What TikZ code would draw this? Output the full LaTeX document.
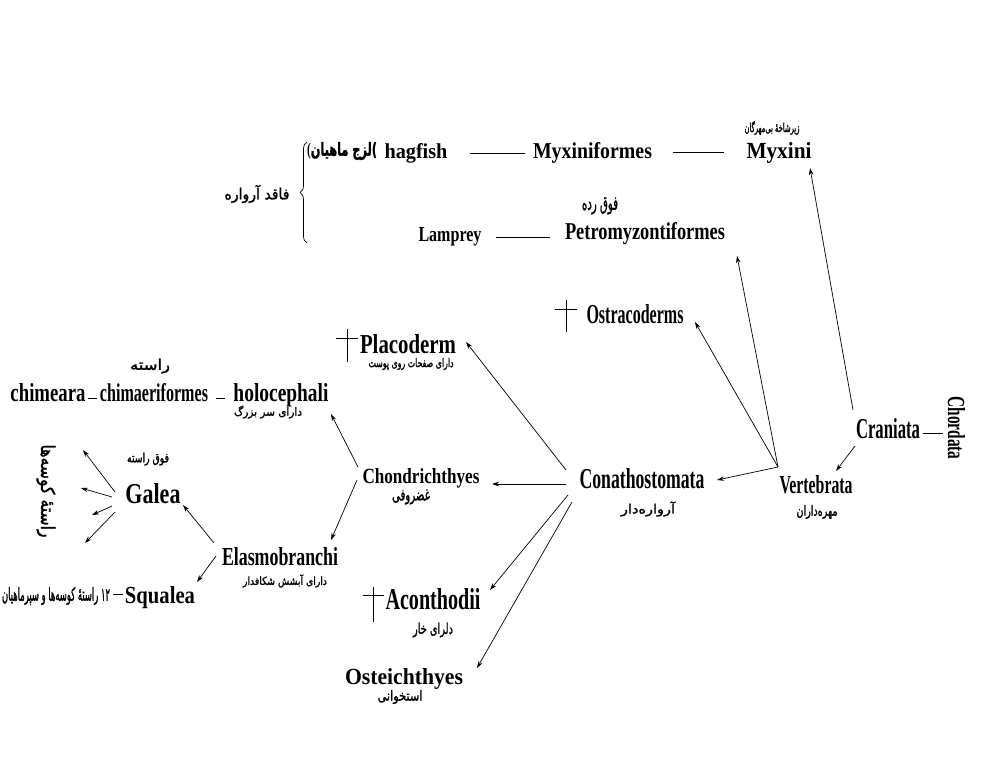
\documentclass[tikz,border=0pt]{standalone}
\usepackage{fontspec}
\usepackage{graphicx}
\setmainfont{Liberation Serif}
\newfontfamily\fa[Script=Arabic,FakeBold=1.6]{DejaVu Sans}
\TeXXeTstate=1
\usetikzlibrary{arrows.meta,decorations.pathreplacing}
\newcommand{\LT}[3]{\resizebox{#1pt}{#2pt}{\bfseries #3}}
\newcommand{\FA}[3]{\resizebox*{#1pt}{#2pt}{\fa #3}}
\tikzset{
  lat/.style={anchor=base, inner sep=0pt},
  per/.style={anchor=center, inner sep=0pt},
  arr/.style={line width=0.7pt, -{Stealth[length=7pt,width=4.5pt]}},
  ln/.style={line width=0.7pt},
  crossln/.style={line width=0.6pt},
}
\begin{document}
\begin{tikzpicture}[x=1pt,y=-1pt]
\fill[white] (0,0) rectangle (1000,773);
\useasboundingbox (0,0) rectangle (1000,773);

% Latin labels
\node[lat] (hag) at (416,158) {\LT{63}{15}{hagfish}};
\node[lat] (myxf) at (592.5,158) {\LT{119}{16}{Myxiniformes}};
\node[lat] (myx) at (779,158) {\LT{65}{16}{Myxini}};
\node[lat] (lam) at (450,241) {\LT{63}{14}{Lamprey}};
\node[lat] (pet) at (645,239) {\LT{160}{17}{Petromyzontiformes}};
\node[lat] (ost) at (635,323) {\LT{97}{19}{Ostracoderms}};
\node[lat] (pla) at (408,353) {\LT{96}{19}{Placoderm}};
\node[lat] (chi) at (48,401) {\LT{75}{18}{chimeara}};
\node[lat] (chf) at (154,401) {\LT{108}{18}{chimaeriformes}};
\node[lat] (hol) at (281,401) {\LT{95}{18}{holocephali}};
\node[lat] (cra) at (888,438) {\LT{64}{20}{Craniata}};
\node[lat, rotate=-90] (cho) at (948,428) {\LT{63}{17}{Chordata}};
\node[lat] (ver) at (816,493) {\LT{73}{18}{Vertebrata}};
\node[lat] (con) at (642,488) {\LT{125}{20}{Conathostomata}};
\node[lat] (chd) at (421,483) {\LT{117}{15}{Chondrichthyes}};
\node[lat] (gal) at (153,503) {\LT{55}{20}{Galea}};
\node[lat] (ela) at (280,565) {\LT{116}{18}{Elasmobranchi}};
\node[lat] (squ) at (160,603) {\LT{70}{17}{Squalea}};
\node[lat] (aco) at (433,609) {\LT{95}{21}{Aconthodii}};
\node[lat] (ostei) at (404,684) {\LT{118}{16}{Osteichthyes}};

% Persian labels
\node[per] (lazej) at (342,151) {\resizebox*{70pt}{18pt}{\bfseries(\fa\beginR لزج ماهیان\endR)}};
\node[per] (zirshakhe) at (772,128) {\FA{55}{14}{\beginR زیرشاخهٔ بی^^^^200cمهرگان\endR}};
\node[per] (faghed) at (257,194) {\FA{65}{18}{\beginR فاقد آرواره\endR}};
\node[per] (foghrade) at (600,206) {\FA{36}{17}{\beginR فوق رده\endR}};
\node[per] (safahat) at (411,364) {\FA{85}{12}{\beginR دارای صفحات روی پوست\endR}};
\node[per] (raste) at (150,366) {\FA{40}{15}{\beginR راسته\endR}};
\node[per] (sarbozorg) at (268,412) {\FA{68}{13}{\beginR دارای سر بزرگ\endR}};
\node[per] (foghraste) at (148,459) {\FA{42}{13}{\beginR فوق راسته\endR}};
\node[per, rotate=-90] (kuseha) at (46,491) {\FA{93}{19}{\beginR راستهٔ کوسه^^^^200cها\endR}};
\node[per] (ghozrufi) at (411,497) {\FA{38}{15}{\beginR غضروفی\endR}};
\node[per] (arvaredar) at (648,509) {\FA{54}{15}{\beginR آرواره^^^^200cدار\endR}};
\node[per] (mohredaran) at (817,512) {\FA{41}{14}{\beginR مهره^^^^200cداران\endR}};
\node[per] (abshesh) at (285,581) {\FA{84}{13}{\beginR دارای آبشش شکافدار\endR}};
\node[per] (davazdah) at (56,596) {\FA{108}{18}{\beginR ۱۲ راستهٔ کوسه^^^^200cها و سپرماهیان\endR}};
\node[per] (khar) at (433,630) {\FA{40}{15}{\beginR دلرای خار\endR}};
\node[per] (ostokhani) at (400,697) {\FA{45}{14}{\beginR استخوانی\endR}};

% plain connectors
\draw[ln] ([shift={(22,-5)}]hag.base east) -- ([shift={(-8,-5)}]myxf.base west);
\draw[ln] ([shift={(21,-6)}]myxf.base east) -- ([shift={(-22,-6)}]myx.base west);
\draw[ln] ([shift={(14,-4)}]lam.base east) -- ([shift={(-15,-2)}]pet.base west);
\draw[ln] ([shift={(2.5,-3)}]chi.base east) -- ([shift={(-3,-3)}]chf.base west);
\draw[ln] ([shift={(8,-3)}]chf.base east) -- ([shift={(-8.5,-3)}]hol.base west);
\draw[ln] ([shift={(3,-5)}]cra.base east) -- ([shift={(-5,5)}]cho.base);
\draw[ln] ([shift={(3,-2)}]davazdah.east) -- ([shift={(-2,-9)}]squ.base west);

% brace
\draw[ln, decorate, decoration={brace, amplitude=7pt}] (307,243) -- (307,142);

% crosses
\draw[crossln] (566,300) -- (566,332) (555,309) -- (577,309);
\draw[crossln] (347,329) -- (347,362) (336,338) -- (358,338);
\draw[crossln] (373,587) -- (373,622) (363,595) -- (384,595);

% arrow ends
\coordinate (craTop) at (853,410);
\coordinate (myxTip) at (810,168);
\coordinate (craBot) at (855,446);
\coordinate (verTip) at (836,471);
\coordinate (vhub) at (778,467);
\coordinate (petTip) at (737,256);
\coordinate (ostTip) at (695,322);
\coordinate (conTip) at (717,480);
\coordinate (c1) at (566,470);
\coordinate (plaTip) at (466,342);
\coordinate (c2) at (566,484);
\coordinate (chdTip) at (492,484);
\coordinate (c3) at (568,495);
\coordinate (acoTip) at (490,590);
\coordinate (c4) at (572,502);
\coordinate (osteiTip) at (477,668);
\coordinate (d1) at (358,467);
\coordinate (holTip) at (331,414);
\coordinate (d2) at (357,480);
\coordinate (elaTip) at (331,540);
\coordinate (e1) at (214,543);
\coordinate (galTip) at (183,505);
\coordinate (e2) at (216,556);
\coordinate (squTip) at (197,582);
\coordinate (g1) at (115,492);
\coordinate (g2) at (112,497);
\coordinate (g3) at (112,506);
\coordinate (g4) at (115,512);
\coordinate (k1) at (83,450);
\coordinate (k2) at (81,488);
\coordinate (k3) at (92,515);
\coordinate (k4) at (85,543);

\draw[arr] (craTop) -- (myxTip);
\draw[arr] (craBot) -- (verTip);
\draw[arr] (vhub) -- (petTip);
\draw[arr] (vhub) -- (ostTip);
\draw[arr] (vhub) -- (conTip);
\draw[arr] (c1) -- (plaTip);
\draw[arr] (c2) -- (chdTip);
\draw[arr] (c3) -- (acoTip);
\draw[arr] (c4) -- (osteiTip);
\draw[arr] (d1) -- (holTip);
\draw[arr] (d2) -- (elaTip);
\draw[arr] (e1) -- (galTip);
\draw[arr] (e2) -- (squTip);
\draw[arr] (g1) -- (k1);
\draw[arr] (g2) -- (k2);
\draw[arr] (g3) -- (k3);
\draw[arr] (g4) -- (k4);
\end{tikzpicture}
\end{document}
